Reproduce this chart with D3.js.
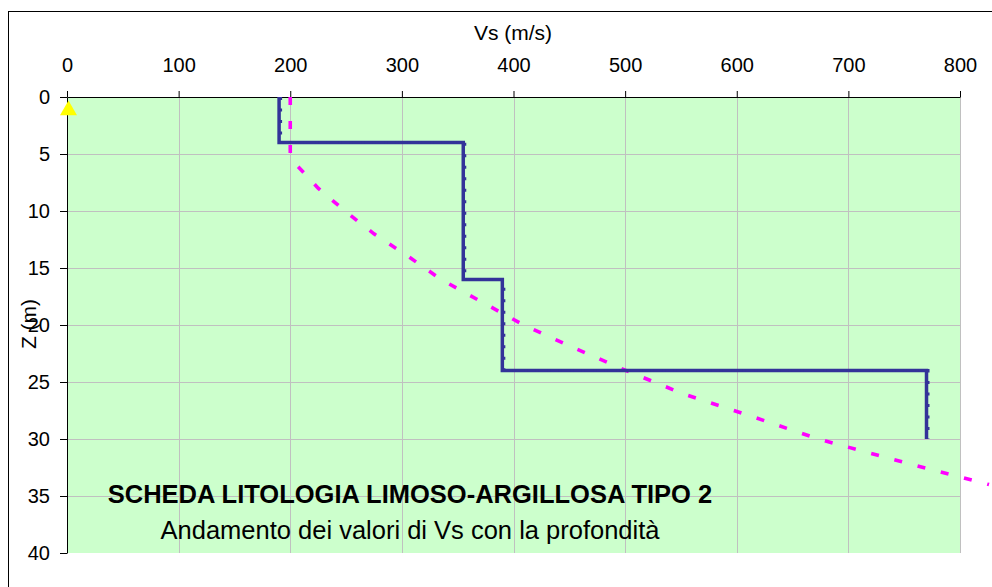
<!DOCTYPE html>
<html>
<head>
<meta charset="utf-8">
<script src="https://cdn.jsdelivr.net/npm/d3@7/dist/d3.min.js"></script>
<style>
  html, body { margin: 0; padding: 0; background: #fff; }
  svg { display: block; }
  text { font-family: "Liberation Sans", Arial, sans-serif; fill: #000; }
</style>
</head>
<body>
<svg id="chart" width="992" height="587"></svg>
<script>
// ---- data ----
const xTicks = [0, 100, 200, 300, 400, 500, 600, 700, 800];
const yTicks = [0, 5, 10, 15, 20, 25, 30, 35, 40];
// measured Vs profile (step line)
const stepDepth = [0, 4, 4, 16, 16, 24, 24, 30];
const stepVs    = [190, 190, 355, 355, 390, 390, 770, 770];
// reference Vs trend (dashed magenta)
const trendDepth = [0, 5, 6, 8, 10, 12, 14, 16, 18, 20, 22, 24, 26, 28, 30, 32, 34];
const trendVs    = [200, 200, 206, 225, 249, 275, 306, 335, 372, 409, 454, 501, 551, 613, 673, 748, 826];
// marker
const markerVs = [0];
const markerDepth = [1];

const titleText = "SCHEDA LITOLOGIA LIMOSO-ARGILLOSA TIPO 2";
const subtitleText = "Andamento dei valori di Vs con la profondità";

// ---- layout ----
const svg = d3.select("#chart");
const x = d3.scaleLinear().domain([0, 800]).range([67, 960]);
const y = d3.scaleLinear().domain([0, 40]).range([97, 553]);

// outer chart border (cut off at right/bottom)
svg.append("rect").attr("x", 8.5).attr("y", 11.5).attr("width", 1100).attr("height", 700)
  .attr("fill", "#fff").attr("stroke", "#000").attr("stroke-width", 1);

// plot area
svg.append("rect").attr("x", x(0)).attr("y", y(0))
  .attr("width", x(800) - x(0)).attr("height", y(40) - y(0))
  .attr("fill", "#CCFFCC");

// gridlines
svg.append("g").selectAll("line").data(xTicks.slice(1)).join("line")
  .attr("x1", d => Math.round(x(d)) + 0.5).attr("x2", d => Math.round(x(d)) + 0.5)
  .attr("y1", y(0)).attr("y2", y(40))
  .attr("stroke", "#C0C0C0").attr("stroke-width", 1);
svg.append("g").selectAll("line").data(yTicks.slice(1, -1)).join("line")
  .attr("y1", d => Math.round(y(d)) + 0.5).attr("y2", d => Math.round(y(d)) + 0.5)
  .attr("x1", x(0)).attr("x2", x(800))
  .attr("stroke", "#C0C0C0").attr("stroke-width", 1);

// axes
const xAxis = svg.append("g").attr("transform", `translate(0,${y(0)})`)
  .call(d3.axisTop(x).tickValues(xTicks).tickSize(6).tickSizeOuter(0).tickPadding(19));
const yAxis = svg.append("g").attr("transform", `translate(${x(0)},0)`)
  .call(d3.axisLeft(y).tickValues(yTicks).tickSize(7).tickSizeOuter(0).tickPadding(10));
[xAxis, yAxis].forEach(g => {
  g.selectAll("path, line").attr("stroke", "#000");
  g.selectAll("text").style("font-size", "20px").style("font-family", "'Liberation Sans', Arial, sans-serif").attr("fill", "#000");
});

// axis titles
svg.append("text").attr("x", 513).attr("y", 40).attr("text-anchor", "middle")
  .style("font-size", "21px").text("Vs (m/s)");
svg.append("text").attr("transform", "translate(36,324) rotate(-90)").attr("text-anchor", "middle")
  .style("font-size", "21px").text("Z (m)");

// trend line (dashed magenta)
const trendPts = trendDepth.map((d, i) => [trendVs[i], d]);
const line = d3.line().x(d => x(d[0])).y(d => y(d[1]));
svg.append("path").attr("d", line(trendPts))
  .attr("fill", "none").attr("stroke", "#FF00FF").attr("stroke-width", 3.6)
  .attr("stroke-dasharray", "8,16");

// step line
const stepPts = stepDepth.map((d, i) => [stepVs[i], d]);
svg.append("path").attr("d", line(stepPts))
  .attr("fill", "none").attr("stroke", "#333399").attr("stroke-width", 3.5)
  .attr("stroke-linejoin", "miter");
svg.append("path").attr("d", line(stepPts)).attr("transform", "translate(1.5,0)")
  .attr("fill", "none").attr("stroke", "#333399").attr("stroke-width", 3)
  .attr("stroke-dasharray", "3,8.5");

// marker
svg.append("g").selectAll("path").data(markerVs.map((v, i) => [v, markerDepth[i]])).join("path")
  .attr("transform", d => `translate(${x(d[0]) + 1.5},${y(d[1]) + 2})`)
  .attr("d", d3.symbol().type(d3.symbolTriangle).size(125))
  .attr("fill", "#FFFF00");

// titles
svg.append("text").attr("x", 410).attr("y", 503).attr("text-anchor", "middle")
  .style("font-size", "25.5px").style("font-weight", "bold").text(titleText);
svg.append("text").attr("x", 410).attr("y", 539).attr("text-anchor", "middle")
  .style("font-size", "25.5px").text(subtitleText);
</script>
</body>
</html>
